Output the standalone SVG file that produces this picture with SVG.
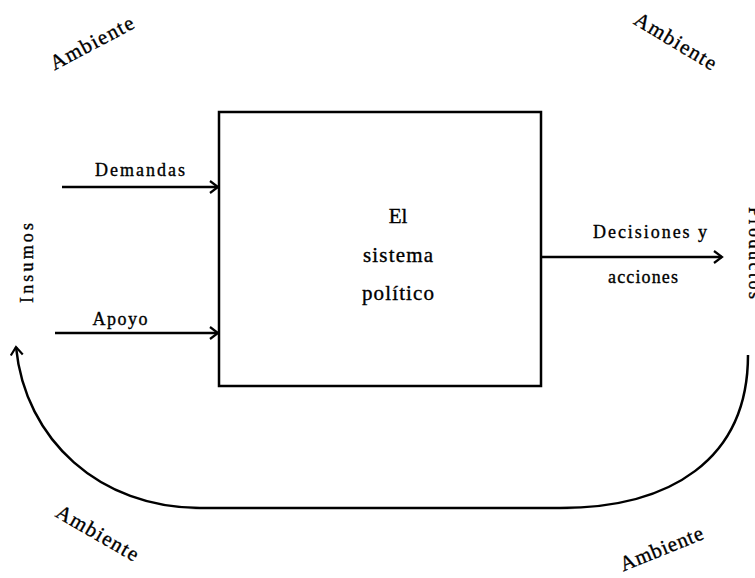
<svg xmlns="http://www.w3.org/2000/svg" width="755" height="578" viewBox="0 0 755 578">
<style>
text{font-family:"Liberation Serif","Times New Roman",serif;fill:#000;stroke:#000;stroke-width:0.35}
.lbl{font-size:18px}
.amb{font-size:21px}
.ctr{font-size:21px}
.ln{fill:none;stroke:#000;stroke-width:2.5}
</style>
<defs>
<marker id="ah" markerWidth="12" markerHeight="14" refX="10" refY="7" orient="auto" markerUnits="userSpaceOnUse">
<path d="M2,1 L10,7 L2,13" fill="none" stroke="#000" stroke-width="2.2"/>
</marker>
</defs>
<g id="ambient">
<text class="amb" transform="translate(95,49) rotate(-28)" text-anchor="middle" textLength="92">Ambiente</text>
<text class="amb" transform="translate(672,47) rotate(31)" text-anchor="middle" textLength="92">Ambiente</text>
<text class="amb" transform="translate(94,539) rotate(30)" text-anchor="middle" textLength="92">Ambiente</text>
<text class="amb" transform="translate(664,555) rotate(-22)" text-anchor="middle" textLength="88">Ambiente</text>
</g>
<g id="system">
<rect x="219" y="112" width="322" height="274" fill="none" stroke="#000" stroke-width="2.5"/>
<text class="ctr" x="398" y="223" text-anchor="middle">El</text>
<text class="ctr" x="398" y="262" text-anchor="middle" textLength="70">sistema</text>
<text class="ctr" x="398" y="300" text-anchor="middle" textLength="72">político</text>
</g>
<g id="inputs">
<text class="lbl" transform="translate(33,263) rotate(-90)" text-anchor="middle" textLength="80" font-size="19">Insumos</text>
<text class="lbl" x="140" y="176" text-anchor="middle" textLength="90">Demandas</text>
<text class="lbl" x="120" y="325" text-anchor="middle" textLength="55">Apoyo</text>
</g>
<g id="outputs">
<text class="lbl" x="650" y="238" text-anchor="middle" textLength="114">Decisiones y</text>
<text class="lbl" x="643" y="283" text-anchor="middle" textLength="70">acciones</text>
<text class="lbl" transform="translate(749,253) rotate(90)" text-anchor="middle" textLength="92" font-size="19">Productos</text>
</g>
<g id="connectors">
<line class="ln" x1="62" y1="187" x2="218" y2="187" marker-end="url(#ah)"/>
<line class="ln" x1="55" y1="333" x2="218" y2="333" marker-end="url(#ah)"/>
<line class="ln" x1="541" y1="257" x2="722" y2="257" marker-end="url(#ah)"/>
<path class="ln" stroke-width="3" d="M748,355 C748,460 670,508 560,508 L200,508 C100,508 25,440 16,347" marker-end="url(#ah)"/>
</g>
</svg>
